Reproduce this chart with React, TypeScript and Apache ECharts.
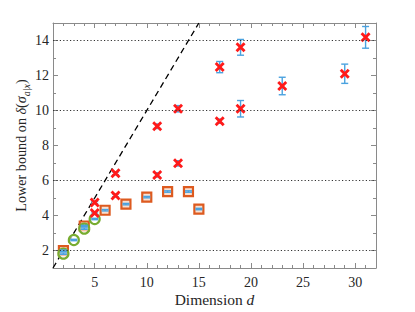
import React, { useEffect, useRef } from "react";
import * as echarts from "echarts";

// ---- data ----
const crossX = [5, 5, 7, 7, 11, 11, 13, 13, 17, 17, 19, 19, 23, 29, 31];
const crossY = [4.75, 4.14, 6.41, 5.15, 9.1, 6.32, 10.1, 6.98, 12.48, 9.39, 13.61, 10.1, 11.4, 12.1, 14.18];
const crossErr = [0.06, 0.06, 0.08, 0.08, 0.13, 0.12, 0.18, 0.15, 0.32, 0.12, 0.45, 0.47, 0.5, 0.55, 0.62];

const squareX = [2, 4, 6, 8, 10, 12, 14, 15];
const squareY = [1.99, 3.4, 4.3, 4.65, 5.05, 5.37, 5.37, 4.37];
const squareErr = [0.04, 0.04, 0.04, 0.04, 0.04, 0.04, 0.04, 0.04];

const circleX = [2, 3, 4, 5];
const circleY = [1.82, 2.6, 3.25, 3.8];
const circleErr = [0.04, 0.04, 0.04, 0.04];

const boundLine = [[1, 1], [15, 15]];
const gridY = [2, 6, 10, 14];

const xRange = [1, 32];
const yRange = [1, 15];

const FONT = "'Liberation Serif', 'Times New Roman', serif";
const AXIS_COLOR = "#8a8a8a";
const TEXT_COLOR = "#262626";
const ERR_COLOR = "#4aa2df";

const xPath = "path://M2,0L5,3L8,0L10,2L7,5L10,8L8,10L5,7L2,10L0,8L3,5L0,2Z";

export default function App() {
  const ref = useRef<HTMLDivElement>(null);

  useEffect(() => {
    if (!ref.current) return;
    const chart = echarts.init(ref.current, null, { renderer: "svg" });

    const errData = [
      ...crossX.map((x, i) => [x, crossY[i], crossErr[i]]),
      ...squareX.map((x, i) => [x, squareY[i], squareErr[i]]),
      ...circleX.map((x, i) => [x, circleY[i], circleErr[i]]),
    ];

    const minorTick = (len: number) => ({ show: true, inside: true, length: len, lineStyle: { color: AXIS_COLOR, width: 1 } });

    const xBase = { type: "value", min: xRange[0], max: xRange[1], splitLine: { show: false } };
    const yBase = { type: "value", min: yRange[0], max: yRange[1], splitLine: { show: false } };

    const YF = 14.2;

    const option: any = {
      animation: false,
      textStyle: { fontFamily: FONT },
      grid: { left: 53, right: 39, top: 23, bottom: 42 },
      xAxis: [
        {
          ...xBase,
          position: "bottom",
          interval: 1,
          axisLine: { show: true, lineStyle: { color: AXIS_COLOR, width: 1 } },
          axisTick: minorTick(3),
          axisLabel: { show: false },
          name: "Dimension {i|d}",
          nameLocation: "middle",
          nameGap: 23,
          nameTextStyle: {
            fontFamily: FONT,
            fontSize: 15.5,
            color: TEXT_COLOR,
            rich: { i: { fontFamily: FONT, fontSize: 15.5, fontStyle: "italic", color: TEXT_COLOR } },
          },
        },
        {
          ...xBase,
          position: "bottom",
          splitNumber: 6,
          axisLine: { show: false },
          axisTick: minorTick(5),
          axisLabel: {
            show: true,
            showMinLabel: false,
            showMaxLabel: false,
            margin: 7,
            fontFamily: FONT,
            fontSize: 14,
            color: TEXT_COLOR,
          },
        },
        {
          ...xBase,
          position: "top",
          interval: 1,
          axisLine: { show: true, lineStyle: { color: AXIS_COLOR, width: 1 } },
          axisTick: minorTick(3),
          axisLabel: { show: false },
        },
        {
          ...xBase,
          position: "top",
          splitNumber: 6,
          axisLine: { show: false },
          axisTick: minorTick(5),
          axisLabel: { show: false },
        },
      ],
      yAxis: [
        {
          ...yBase,
          position: "left",
          interval: 1,
          axisLine: { show: true, lineStyle: { color: AXIS_COLOR, width: 1 } },
          axisTick: minorTick(3),
          axisLabel: { show: false },
          name: "{n|Lower bound on }{i|δ}{n|(}{i|σ}{s|a|x}{n|)}",
          nameLocation: "middle",
          nameRotate: 90,
          nameGap: 22,
          nameTextStyle: {
            fontFamily: FONT,
            fontSize: YF,
            color: TEXT_COLOR,
            rich: {
              n: { fontFamily: FONT, fontSize: YF, lineHeight: 20, color: TEXT_COLOR },
              i: { fontFamily: FONT, fontSize: YF, lineHeight: 20, fontStyle: "italic", color: TEXT_COLOR },
              s: { fontFamily: FONT, fontSize: 10, lineHeight: 11, fontStyle: "italic", verticalAlign: "bottom", color: TEXT_COLOR },
            },
          },
        },
        {
          ...yBase,
          position: "left",
          splitNumber: 7,
          axisLine: { show: false },
          axisTick: minorTick(5),
          axisLabel: {
            show: true,
            showMinLabel: false,
            showMaxLabel: false,
            margin: 4,
            fontFamily: FONT,
            fontSize: 14,
            color: TEXT_COLOR,
          },
        },
        {
          ...yBase,
          position: "right",
          interval: 1,
          axisLine: { show: true, lineStyle: { color: AXIS_COLOR, width: 1 } },
          axisTick: minorTick(3),
          axisLabel: { show: false },
        },
        {
          ...yBase,
          position: "right",
          splitNumber: 7,
          axisLine: { show: false },
          axisTick: minorTick(5),
          axisLabel: { show: false },
        },
      ],
      series: [
        {
          type: "line",
          xAxisIndex: 0,
          yAxisIndex: 0,
          data: boundLine,
          symbol: "none",
          z: 1,
          lineStyle: { color: "#000", width: 1.3, type: [6, 4] },
          markLine: {
            silent: true,
            symbol: "none",
            label: { show: false },
            lineStyle: { color: "#333", width: 1.2, type: [1.2, 2.2] },
            data: gridY.map((v) => ({ yAxis: v })),
          },
        },
        {
          type: "scatter",
          xAxisIndex: 0,
          yAxisIndex: 0,
          data: squareX.map((x, i) => [x, squareY[i]]),
          symbol: "rect",
          symbolSize: 9,
          z: 2,
          itemStyle: { color: "#f7e0d2", borderColor: "#dd5a1f", borderWidth: 2.2, opacity: 1 },
        },
        {
          type: "scatter",
          xAxisIndex: 0,
          yAxisIndex: 0,
          data: circleX.map((x, i) => [x, circleY[i]]),
          symbol: "circle",
          symbolSize: 10,
          z: 2,
          itemStyle: { color: "rgba(255,255,255,0.6)", borderColor: "#77ac30", borderWidth: 2.2, opacity: 1 },
        },
        {
          type: "custom",
          xAxisIndex: 0,
          yAxisIndex: 0,
          z: 3,
          data: errData,
          encode: { x: 0, y: 1 },
          renderItem: (params: any, api: any) => {
            const x = api.value(0);
            const y = api.value(1);
            const e = api.value(2);
            const top = api.coord([x, y + e]);
            const bot = api.coord([x, y - e]);
            const hw = 3.5;
            const style = { stroke: ERR_COLOR, lineWidth: 1.4 };
            return {
              type: "group",
              children: [
                { type: "line", shape: { x1: top[0], y1: top[1], x2: bot[0], y2: bot[1] }, style },
                { type: "line", shape: { x1: top[0] - hw, y1: top[1], x2: top[0] + hw, y2: top[1] }, style },
                { type: "line", shape: { x1: bot[0] - hw, y1: bot[1], x2: bot[0] + hw, y2: bot[1] }, style },
              ],
            };
          },
        },
        {
          type: "scatter",
          xAxisIndex: 0,
          yAxisIndex: 0,
          data: crossX.map((x, i) => [x, crossY[i]]),
          symbol: xPath,
          symbolSize: 10,
          z: 4,
          itemStyle: { color: "#ff1a1a", opacity: 1 },
        },
      ],
    };

    chart.setOption(option);
    return () => chart.dispose();
  }, []);

  return (
    <div
      ref={ref}
      style={{ position: "fixed", left: 0, top: 0, width: 415, height: 312, background: "#fff" }}
    />
  );
}
